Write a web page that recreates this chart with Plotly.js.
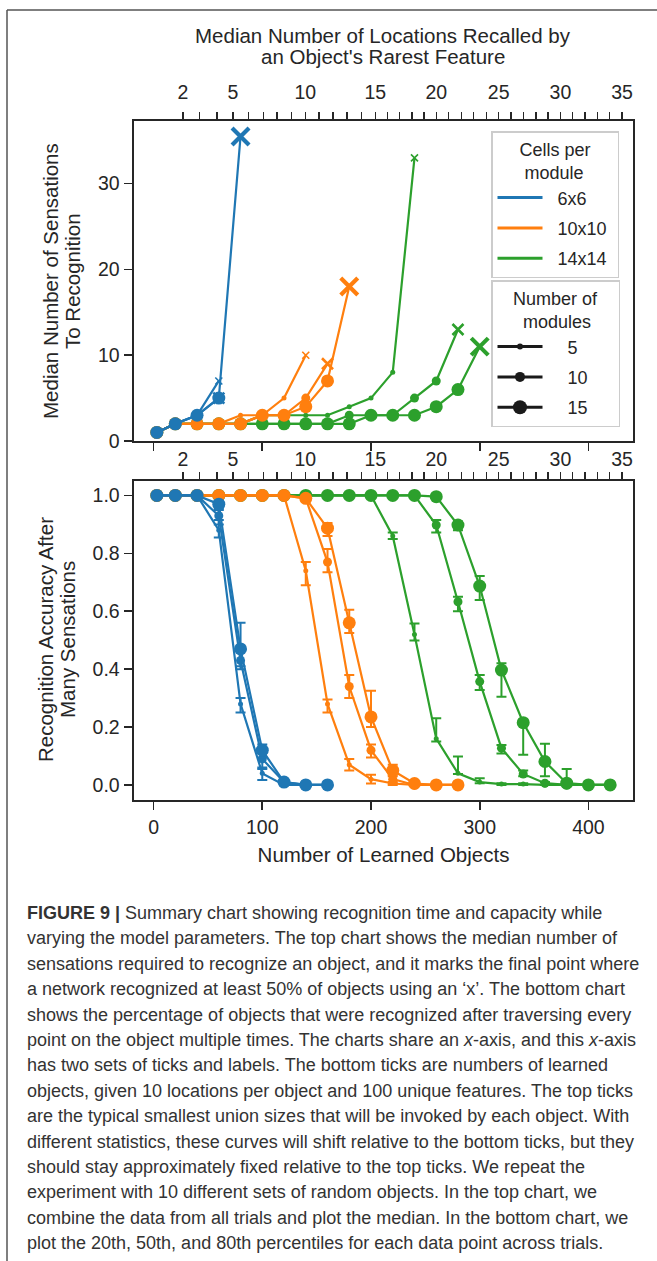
<!DOCTYPE html>
<html><head><meta charset="utf-8">
<script src="https://cdn.plot.ly/plotly-3.0.1.min.js"></script>
<style>body{margin:0;padding:0;background:#fff}#chart{width:657px;height:1261px}</style>
</head><body><div id="chart"></div>
<script>
// ---------------- DATA ----------------
const xObjects = [3,20,40,60,80,100,120,140,160,180,200,220,240,260,280,300,320,340,360,380,400,420];
const cellsLabels = ['6x6','10x10','14x14'];
const moduleLabels = ['5','10','15'];
const bottomTickVals = [0,100,200,300,400];
const topTickNumbers = [2,3,4,5,6,7,8,9,10,11,12,13,14,15,16,17,18,19,20,21,22,23,24,25,26,27,28,29,30,31,32,33,34,35];
const topTickPositions = [27.0,42.3,58.3,73.0,87.4,101.0,113.5,126.7,139.6,152.4,165.3,178.2,191.1,204.0,215.3,226.3,237.7,248.7,260.1,271.4,283.1,294.4,306.1,317.4,328.7,340.1,351.5,362.8,374.2,385.5,396.8,408.2,419.5,430.9];
const topLabeledNumbers = [2,5,10,15,20,25,30,35];

// Top chart: median number of sensations to recognition (last point = 'x')
const sens6x6_5   = [1,2,3,7];
const sens6x6_10  = [1,2,3,5];
const sens6x6_15  = [1,2,3,5,35.5];
const sens10x10_5  = [1,2,2,2,3,3,5,10];
const sens10x10_10 = [1,2,2,2,2,3,3,5,9];
const sens10x10_15 = [1,2,2,2,2,3,3,4,7,18];
const sens14x14_5  = [1,2,2,2,2,3,3,3,3,4,5,8,33];
const sens14x14_10 = [1,2,2,2,2,2,2,2,2,3,3,3,5,7,13];
const sens14x14_15 = [1,2,2,2,2,2,2,2,2,2,3,3,3,4,6,11];

// Bottom chart: recognition accuracy (median, 20th pct, 80th pct)
const acc6x6_5     = [1,1,1,0.88,0.28,0.04,0.0,0,0];
const acc6x6_5p20  = [1,1,1,0.855,0.25,0.017,0,0,0];
const acc6x6_5p80  = [1,1,1,0.915,0.30,0.055,0.005,0,0];
const acc6x6_10    = [1,1,1,0.93,0.43,0.09,0.01,0,0];
const acc6x6_10p20 = [1,1,1,0.90,0.40,0.06,0,0,0];
const acc6x6_10p80 = [1,1,1,0.95,0.47,0.11,0.02,0,0];
const acc6x6_15    = [1,1,1,0.97,0.47,0.12,0.01,0,0];
const acc6x6_15p20 = [1,1,1,0.955,0.41,0.095,0,0,0];
const acc6x6_15p80 = [1,1,1,0.98,0.56,0.14,0.02,0,0];

const acc10x10_5     = [1,1,1,1,1,1,1,0.74,0.28,0.07,0.02,0.005,0,0,0];
const acc10x10_5p20  = [1,1,1,1,1,1,1,0.69,0.25,0.05,0.005,0,0,0,0];
const acc10x10_5p80  = [1,1,1,1,1,1,1,0.77,0.295,0.09,0.035,0.01,0,0,0];
const acc10x10_10    = [1,1,1,1,1,1,1,0.99,0.77,0.34,0.12,0.02,0,0,0];
const acc10x10_10p20 = [1,1,1,1,1,1,1,0.98,0.735,0.30,0.095,0.005,0,0,0];
const acc10x10_10p80 = [1,1,1,1,1,1,1,1,0.815,0.38,0.14,0.03,0,0,0];
const acc10x10_15    = [1,1,1,1,1,1,1,0.99,0.887,0.56,0.235,0.05,0.005,0,0];
const acc10x10_15p20 = [1,1,1,1,1,1,1,0.98,0.86,0.525,0.20,0.035,0,0,0];
const acc10x10_15p80 = [1,1,1,1,1,1,1,1,0.905,0.605,0.325,0.07,0.01,0,0];

const acc14x14_5     = [1,1,1,1,1,1,1,1,1,1,1,0.86,0.52,0.16,0.04,0.01,0.003,0.003,0,0,0,0];
const acc14x14_5p20  = [1,1,1,1,1,1,1,1,1,1,1,0.85,0.499,0.15,0.038,0.006,0,0,0,0,0,0];
const acc14x14_5p80  = [1,1,1,1,1,1,1,1,1,1,1,0.872,0.558,0.23,0.098,0.023,0.006,0.006,0,0,0,0];
const acc14x14_10    = [1,1,1,1,1,1,1,1,1,1,1,1,1,0.898,0.633,0.357,0.127,0.038,0.006,0,0,0];
const acc14x14_10p20 = [1,1,1,1,1,1,1,1,1,1,1,1,1,0.872,0.60,0.328,0.109,0.03,0,0,0,0];
const acc14x14_10p80 = [1,1,1,1,1,1,1,1,1,1,1,1,1,0.915,0.65,0.38,0.138,0.05,0.01,0,0,0];
const acc14x14_15    = [1,1,1,1,1,1,1,1,1,1,1,1,1,0.996,0.898,0.687,0.397,0.215,0.081,0.006,0,0];
const acc14x14_15p20 = [1,1,1,1,1,1,1,1,1,1,1,1,1,0.99,0.88,0.639,0.305,0.104,0.03,0,0,0];
const acc14x14_15p80 = [1,1,1,1,1,1,1,1,1,1,1,1,1,1,0.91,0.722,0.42,0.225,0.142,0.055,0,0];

const topTitleLines = ["Median Number of Locations Recalled by", "an Object's Rarest Feature"];
const yTitleTopLines = ["Median Number of Sensations", "To Recognition"];
const yTitleBottomLines = ["Recognition Accuracy After", "Many Sensations"];
const xTitleBottom = "Number of Learned Objects";
const NB = '\u00a0';
const legendCellsTitle = "Cells per<br>" + NB + "module";
const legendModulesTitle = "Number of<br>" + NB + NB + "modules";

const captionLines = [
 "<b>FIGURE 9 |</b> Summary chart showing recognition time and capacity while",
 "varying the model parameters. The top chart shows the median number of",
 "sensations required to recognize an object, and it marks the final point where",
 "a network recognized at least 50% of objects using an ‘x’. The bottom chart",
 "shows the percentage of objects that were recognized after traversing every",
 "point on the object multiple times. The charts share an <i>x</i>-axis, and this <i>x</i>-axis",
 "has two sets of ticks and labels. The bottom ticks are numbers of learned",
 "objects, given 10 locations per object and 100 unique features. The top ticks",
 "are the typical smallest union sizes that will be invoked by each object. With",
 "different statistics, these curves will shift relative to the bottom ticks, but they",
 "should stay approximately fixed relative to the top ticks. We repeat the",
 "experiment with 10 different sets of random objects. In the top chart, we",
 "combine the data from all trials and plot the median. In the bottom chart, we",
 "plot the 20th, 50th, and 80th percentiles for each data point across trials."
];

// ---------------- STYLE ----------------
const W = 657, H = 1261;
const FONT = 'Liberation Sans, Arial, sans-serif';
const INK = '#262626';
const COLORS = {'6x6':'#1f77b4','10x10':'#ff7f0e','14x14':'#2ca02c'};
const CIRCLE = [5,9,13];
const XSIZE = [7,11,17];
const XLW = [1.6,2.6,4.2];
const TICKSZ = 19.5, TITLESZ = 20.5, LEGSZ = 18;
const px = p => p/W;
const py = p => 1 - p/H;

const topSeries = [
 ['14x14',0,sens14x14_5],['14x14',1,sens14x14_10],['14x14',2,sens14x14_15],
 ['10x10',0,sens10x10_5],['10x10',1,sens10x10_10],['10x10',2,sens10x10_15],
 ['6x6',0,sens6x6_5],['6x6',1,sens6x6_10],['6x6',2,sens6x6_15]
];
const botSeries = [
 ['14x14',0,acc14x14_5,acc14x14_5p20,acc14x14_5p80],
 ['14x14',1,acc14x14_10,acc14x14_10p20,acc14x14_10p80],
 ['14x14',2,acc14x14_15,acc14x14_15p20,acc14x14_15p80],
 ['10x10',0,acc10x10_5,acc10x10_5p20,acc10x10_5p80],
 ['10x10',1,acc10x10_10,acc10x10_10p20,acc10x10_10p80],
 ['10x10',2,acc10x10_15,acc10x10_15p20,acc10x10_15p80],
 ['6x6',0,acc6x6_5,acc6x6_5p20,acc6x6_5p80],
 ['6x6',1,acc6x6_10,acc6x6_10p20,acc6x6_10p80],
 ['6x6',2,acc6x6_15,acc6x6_15p20,acc6x6_15p80]
];

const traces = [];
// anchors so the top (secondary) axes get drawn
traces.push({type:'scatter', mode:'markers', x:[null], y:[null], xaxis:'x2', yaxis:'y', showlegend:false, hoverinfo:'skip'});
traces.push({type:'scatter', mode:'markers', x:[null], y:[null], xaxis:'x4', yaxis:'y2', showlegend:false, hoverinfo:'skip'});

topSeries.forEach(([c,m,y]) => {
  const n = y.length;
  traces.push({
    type:'scatter', mode:'lines+markers', xaxis:'x', yaxis:'y', showlegend:false,
    x: xObjects.slice(0,n), y: y,
    line:{color:COLORS[c], width:2.2},
    marker:{color:COLORS[c], opacity:1,
      symbol: y.map((v,i)=> i===n-1 ? 'x-thin' : 'circle'),
      size: y.map((v,i)=> i===n-1 ? XSIZE[m] : CIRCLE[m]),
      line:{color:COLORS[c], width: y.map((v,i)=> i===n-1 ? XLW[m] : 0)}},
    hoverinfo:'skip'
  });
});
botSeries.forEach(([c,m,y,p20,p80]) => {
  const n = y.length;
  traces.push({
    type:'scatter', mode:'lines+markers', xaxis:'x3', yaxis:'y2', showlegend:false,
    x: xObjects.slice(0,n), y: y,
    line:{color:COLORS[c], width:2.2},
    marker:{color:COLORS[c], size:CIRCLE[m], opacity:1},
    error_y:{type:'data', symmetric:false,
      array: p80.map((v,i)=> Math.max(0, v - y[i])),
      arrayminus: p20.map((v,i)=> Math.max(0, y[i] - v)),
      color:COLORS[c], thickness:2, width:5},
    hoverinfo:'skip'
  });
});
// legend entries
cellsLabels.forEach((c,i) => traces.push({
  type:'scatter', mode:'lines', x:[null], y:[null], xaxis:'x', yaxis:'y',
  name:NB+NB+c+NB, legend:'legend', legendgroup:'c'+i, line:{color:COLORS[c], width:3}
}));
moduleLabels.forEach((m,i) => traces.push({
  type:'scatter', mode:'lines+markers', x:[null], y:[null], xaxis:'x', yaxis:'y',
  name:NB+NB+NB+NB+m+NB+NB+NB+NB+NB, legend:'legend2', legendgroup:'m'+i, line:{color:'#1a1a1a', width:3},
  marker:{color:'#1a1a1a', size:CIRCLE[i]+1, opacity:1}
}));

const tickFont = {family:FONT, size:TICKSZ, color:INK};
const axisBase = {showline:true, linecolor:INK, linewidth:2.4, mirror:true,
  ticks:'outside', ticklen:8, tickwidth:1.6, tickcolor:INK, showgrid:false,
  zeroline:false, tickfont:tickFont, automargin:false, fixedrange:true};
const xDomain = [px(134), px(633)];
const xRange = [-18, 441];
const topText = topTickNumbers.map(v => topLabeledNumbers.includes(v) ? String(v) : '');
const titleFont = {family:FONT, size:TITLESZ, color:INK};

const annotations = [];
topTitleLines.forEach((t,i) => annotations.push({xref:'paper', yref:'paper', x:px(383), y:py(35 + i*22),
  xanchor:'center', yanchor:'middle', showarrow:false, text:t, font:titleFont}));
yTitleTopLines.forEach((t,i) => annotations.push({xref:'paper', yref:'paper', x:px(50 + i*22), y:py(281),
  xanchor:'center', yanchor:'middle', showarrow:false, text:t, textangle:-90, font:titleFont}));
yTitleBottomLines.forEach((t,i) => annotations.push({xref:'paper', yref:'paper', x:px(45 + i*22), y:py(640),
  xanchor:'center', yanchor:'middle', showarrow:false, text:t, textangle:-90, font:titleFont}));
captionLines.forEach((t,i) => annotations.push({xref:'paper', yref:'paper', x:px(25), y:py(913 + i*25.4),
  xanchor:'left', yanchor:'middle', showarrow:false, align:'left', text:t,
  font:{family:FONT, size:18, color:'#333'}}));

const layout = {
  width:W, height:H, margin:{l:0,r:0,t:0,b:0},
  paper_bgcolor:'#fff', plot_bgcolor:'rgba(0,0,0,0)',
  font:{family:FONT, color:INK, size:TICKSZ},
  xaxis: Object.assign({}, axisBase, {domain:xDomain, anchor:'y', range:xRange,
    tickmode:'array', tickvals:bottomTickVals, showticklabels:false}),
  xaxis2: Object.assign({}, axisBase, {overlaying:'x', side:'top', anchor:'y', range:xRange,
    showline:false, mirror:false, tickmode:'array', tickvals:topTickPositions, ticktext:topText,
    ticklabelstandoff:5}),
  xaxis3: Object.assign({}, axisBase, {domain:xDomain, anchor:'y2', range:xRange,
    tickmode:'array', tickvals:bottomTickVals,
    title:{text:xTitleBottom, font:titleFont, standoff:11}}),
  xaxis4: Object.assign({}, axisBase, {overlaying:'x3', side:'top', anchor:'y2', range:xRange,
    showline:false, mirror:false, tickmode:'array', tickvals:topTickPositions, ticktext:topText,
    ticklabelstandoff:-2}),
  yaxis: Object.assign({}, axisBase, {domain:[py(441), py(121)], anchor:'x', range:[0,37.3],
    tickmode:'array', tickvals:[0,10,20,30]}),
  yaxis2: Object.assign({}, axisBase, {domain:[py(800), py(481)], anchor:'x3', range:[-0.052,1.05],
    tickmode:'array', tickvals:[0,0.2,0.4,0.6,0.8,1.0], tickformat:'.1f'}),
  legend:{x:px(491), y:py(131), xanchor:'left', yanchor:'top',
    bgcolor:'rgba(255,255,255,0.85)', bordercolor:'#cccccc', borderwidth:1.5,
    font:{family:FONT,size:LEGSZ,color:INK}, itemwidth:45, tracegroupgap:4,
    title:{text:legendCellsTitle, side:'top center', font:{family:FONT,size:LEGSZ,color:INK}}},
  legend2:{x:px(491), y:py(280), xanchor:'left', yanchor:'top',
    bgcolor:'rgba(255,255,255,0.85)', bordercolor:'#cccccc', borderwidth:1.5,
    font:{family:FONT,size:LEGSZ,color:INK}, itemwidth:45, tracegroupgap:4,
    title:{text:legendModulesTitle, side:'top center', font:{family:FONT,size:LEGSZ,color:INK}}},
  shapes:[
    {type:'line', xref:'paper', yref:'paper', x0:px(7), x1:1, y0:py(10), y1:py(10), line:{color:'#555', width:1.5}},
    {type:'line', xref:'paper', yref:'paper', x0:px(7), x1:px(7), y0:py(10), y1:0, line:{color:'#555', width:1.5}}
  ],
  annotations: annotations
};

Plotly.newPlot('chart', traces, layout, {displayModeBar:false, staticPlot:true});
</script>
</body></html>
